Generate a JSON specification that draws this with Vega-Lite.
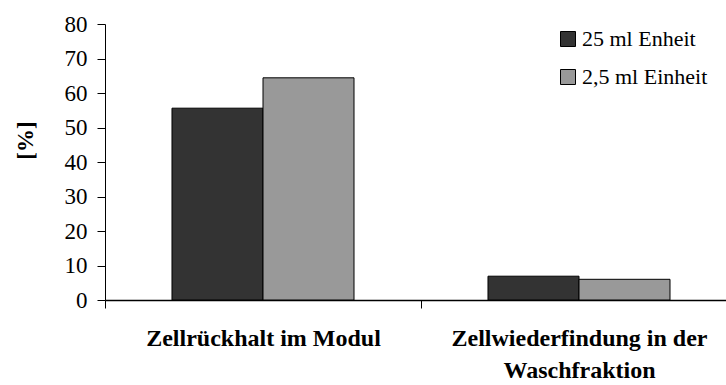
{
  "$schema": "https://vega.github.io/schema/vega-lite/v6.json",
  "autosize": {"type": "none"},
  "width": 621,
  "height": 276,
  "padding": {"left": 105, "top": 24, "right": 0, "bottom": 85},
  "background": "white",
  "data": {"values": [
    {"kategorie": "Zellrückhalt im Modul", "einheit": "25 ml Enheit", "wert": 55.6},
    {"kategorie": "Zellrückhalt im Modul", "einheit": "2,5 ml Einheit", "wert": 64.4},
    {"kategorie": "Zellwiederfindung in der Waschfraktion", "einheit": "25 ml Enheit", "wert": 6.9},
    {"kategorie": "Zellwiederfindung in der Waschfraktion", "einheit": "2,5 ml Einheit", "wert": 6.0}
  ]},
  "mark": {"type": "bar", "stroke": "black", "strokeWidth": 1},
  "encoding": {
    "x": {
      "field": "kategorie", "type": "nominal", "sort": null,
      "scale": {"range": [0, 632], "paddingInner": 0, "paddingOuter": 0},
      "axis": {
        "title": null, "labelAngle": 0, "tickBand": "extent",
        "labelFontWeight": "bold", "labelFontSize": 24,
        "labelColor": "black", "labelPadding": 18, "labelLineHeight": 32,
        "labelBaseline": "top",
        "labelExpr": "datum.label == 'Zellwiederfindung in der Waschfraktion' ? ['Zellwiederfindung in der', 'Waschfraktion'] : datum.label",
        "tickSize": 8, "tickColor": "black", "domainColor": "black", "domainWidth": 1.5,
        "labelLimit": 400, "grid": false
      }
    },
    "xOffset": {
      "field": "einheit", "type": "nominal", "sort": ["25 ml Enheit", "2,5 ml Einheit"],
      "scale": {"paddingInner": 0, "paddingOuter": 0.736}
    },
    "y": {
      "field": "wert", "type": "quantitative",
      "scale": {"domain": [0, 80], "nice": false},
      "axis": {
        "title": "[%]", "titleFontSize": 23, "titleFontWeight": "bold",
        "titleColor": "black", "titlePadding": 27, "titleY": 116,
        "values": [0, 10, 20, 30, 40, 50, 60, 70, 80],
        "labelFontSize": 23, "labelColor": "black", "labelPadding": 10,
        "tickSize": 8, "tickColor": "black", "domainColor": "black", "grid": false
      }
    },
    "fill": {
      "field": "einheit", "type": "nominal", "sort": ["25 ml Enheit", "2,5 ml Einheit"],
      "scale": {"domain": ["25 ml Enheit", "2,5 ml Einheit"], "range": ["#333333", "#999999"]},
      "legend": {
        "title": null, "orient": "none", "legendX": 452, "legendY": 4,
        "symbolType": "square", "symbolSize": 225, "symbolStrokeColor": "black", "symbolStrokeWidth": 1,
        "labelFontSize": 22, "labelColor": "black",
        "rowPadding": 16, "labelOffset": 3
      }
    }
  },
  "config": {"font": "Liberation Serif", "view": {"stroke": null}}
}
